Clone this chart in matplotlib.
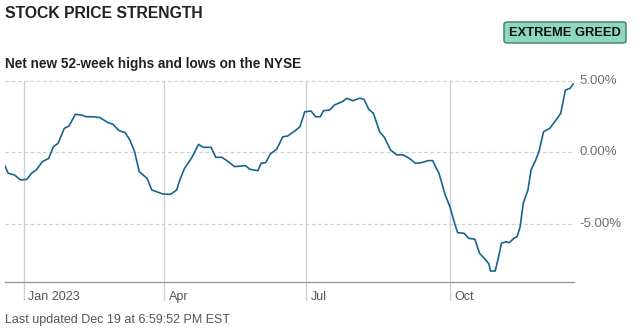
import pandas as pd
import matplotlib
matplotlib.use("Agg")
import matplotlib.pyplot as plt
import matplotlib.dates as mdates
from matplotlib.patches import FancyBboxPatch

# ==== DATA ====
dates = [
    "2022-12-20", "2022-12-22", "2022-12-26", "2022-12-30", "2023-01-03", "2023-01-06",
    "2023-01-09", "2023-01-13", "2023-01-17", "2023-01-20", "2023-01-23", "2023-01-27",
    "2023-01-30", "2023-02-03", "2023-02-07", "2023-02-10", "2023-02-15", "2023-02-19",
    "2023-02-24", "2023-02-27", "2023-03-03", "2023-03-07", "2023-03-10", "2023-03-13",
    "2023-03-16", "2023-03-21", "2023-03-24", "2023-03-27", "2023-03-31", "2023-04-05",
    "2023-04-09", "2023-04-11", "2023-04-14", "2023-04-17", "2023-04-19", "2023-04-23",
    "2023-04-26", "2023-05-01", "2023-05-04", "2023-05-08", "2023-05-12", "2023-05-16",
    "2023-05-23", "2023-05-26", "2023-05-31", "2023-06-02", "2023-06-05", "2023-06-08",
    "2023-06-12", "2023-06-16", "2023-06-19", "2023-06-23", "2023-06-27", "2023-06-30",
    "2023-07-04", "2023-07-07", "2023-07-10", "2023-07-12", "2023-07-16", "2023-07-19",
    "2023-07-24", "2023-07-27", "2023-07-31", "2023-08-04", "2023-08-07", "2023-08-10",
    "2023-08-13", "2023-08-17", "2023-08-20", "2023-08-24", "2023-08-28", "2023-09-01",
    "2023-09-05", "2023-09-09", "2023-09-13", "2023-09-17", "2023-09-20", "2023-09-22",
    "2023-09-24", "2023-09-28", "2023-10-01", "2023-10-04", "2023-10-06", "2023-10-10",
    "2023-10-13", "2023-10-17", "2023-10-20", "2023-10-24", "2023-10-26", "2023-10-27",
    "2023-10-30", "2023-11-01", "2023-11-03", "2023-11-06", "2023-11-08", "2023-11-11",
    "2023-11-13", "2023-11-15", "2023-11-17", "2023-11-20", "2023-11-22", "2023-11-25",
    "2023-11-27", "2023-11-30", "2023-12-04", "2023-12-08", "2023-12-11", "2023-12-14",
    "2023-12-17", "2023-12-19",
]
values = [
    -0.94, -1.45, -1.57, -1.92, -1.88, -1.45,
    -1.22, -0.64, -0.41, 0.41, 0.64, 1.69,
    1.85, 2.67, 2.62, 2.50, 2.50, 2.43,
    2.08, 1.99, 1.53, 1.38, 0.87, 0.06,
    -1.34, -1.81, -2.62, -2.74, -2.90, -2.93,
    -2.62, -1.92, -1.11, -0.64, -0.29, 0.57,
    0.36, 0.36, -0.34, -0.34, -0.64, -0.99,
    -0.92, -1.18, -1.27, -0.76, -0.71, -0.10,
    0.22, 1.10, 1.15, 1.45, 1.80, 2.85,
    2.90, 2.50, 2.50, 2.92, 2.97, 3.32,
    3.55, 3.79, 3.62, 3.79, 3.72, 3.02,
    2.74, 1.45, 1.06, 0.17, -0.17, -0.17,
    -0.41, -0.76, -0.71, -0.57, -0.57, -1.04,
    -1.45, -2.97, -3.79, -4.95, -5.61, -5.65,
    -6.00, -6.07, -7.05, -7.52, -7.80, -8.29,
    -8.29, -7.40, -6.35, -6.24, -6.31, -6.00,
    -5.89, -5.19, -3.55, -2.62, -1.22, -0.52,
    0.06, 1.45, 1.69, 2.27, 2.74, 4.37,
    4.49, 4.79,
]
y_ticks = [5, 0, -5]
y_labels = ["5.00%", "0.00%", "-5.00%"]
x_ticks = ["2023-01-01", "2023-04-01", "2023-07-01", "2023-10-01"]
x_labels = ["Jan 2023", "Apr", "Jul", "Oct"]

TITLE = "STOCK PRICE STRENGTH"
SUBTITLE = "Net new 52-week highs and lows on the NYSE"
BADGE = "EXTREME GREED"
FOOTER = "Last updated Dec 19 at 6:59:52 PM EST"

# ==== STYLE ====
plt.rcParams['font.family'] = ['Liberation Sans', 'DejaVu Sans']
LINE_COLOR = "#17658f"
GRID_COLOR = "#d0d0d0"
LABEL_COLOR = "#6e6e6e"

W, H = 640, 333
fig = plt.figure(figsize=(W / 100, H / 100), dpi=100)
ax = fig.add_axes([5 / W, 1 - 282 / H, (574 - 5) / W, (282 - 81) / H])

x = pd.to_datetime(dates)
ax.plot(x, values, color=LINE_COLOR, lw=1.2, solid_joinstyle="round", zorder=3)

ax.set_xlim(pd.Timestamp("2022-12-20"), pd.Timestamp("2023-12-19 12:00"))
ax.set_ylim(-9.06, 5.0)

# horizontal dashed gridlines with labels on the right
for v, lab in zip(y_ticks, y_labels):
    ax.axhline(v, color=GRID_COLOR, lw=0.9, ls=(0, (3, 2)), zorder=1, clip_on=False)
    ax.text(1.01, v, lab, transform=ax.get_yaxis_transform(), ha="left", va="center",
            fontsize=9.5, color=LABEL_COLOR)

# vertical quarter lines, extending below the axis
for d, lab in zip(x_ticks, x_labels):
    xd = mdates.date2num(pd.Timestamp(d))
    ax.plot([xd, xd], [1.0, -0.09], transform=ax.get_xaxis_transform(), color=GRID_COLOR,
            lw=1.0, clip_on=False, zorder=1)
    ax.text(xd + 3, -0.075, lab, transform=ax.get_xaxis_transform(), ha="left", va="center",
            fontsize=9, color="#555555")

for s in ["top", "left", "right"]:
    ax.spines[s].set_visible(False)
ax.spines["bottom"].set_color("#9a9a9a")
ax.spines["bottom"].set_linewidth(1.0)
ax.set_xticks([])
ax.set_yticks([])

# titles
fig.text(5 / W, 1 - 13 / H, TITLE, fontsize=11.3, fontweight="bold", color="#222222",
         ha="left", va="center")
fig.text(5 / W, 1 - 64 / H, SUBTITLE, fontsize=9.8, fontweight="bold", color="#222222",
         ha="left", va="center")
fig.text(5 / W, 1 - 320 / H, FOOTER, fontsize=9, color="#555555", ha="left", va="center")

# badge
bx0, by0, bx1, by1 = 504, 22, 626, 43
badge = FancyBboxPatch((bx0 / W, 1 - by1 / H), (bx1 - bx0) / W, (by1 - by0) / H,
                       boxstyle="round,pad=0,rounding_size=0.006", transform=fig.transFigure,
                       facecolor="#8ed8c2", edgecolor="#3b7d62", lw=1.0)
fig.patches.append(badge)
fig.text((bx0 + bx1) / 2 / W, 1 - (by0 + by1) / 2 / H, BADGE, fontsize=9.3, fontweight="bold",
         color="#111111", ha="center", va="center")

fig.savefig("out.png", dpi=100)
